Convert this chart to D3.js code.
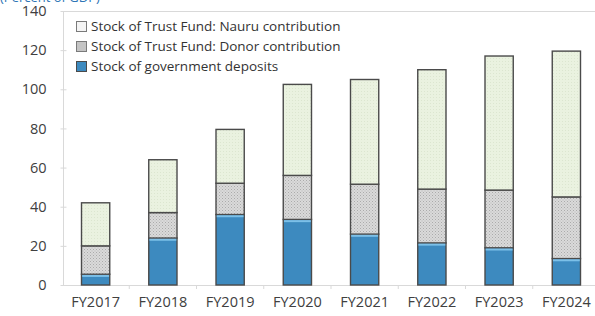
<!DOCTYPE html>
<html lang="en">
<head>
    <meta charset="UTF-8">
    <title>Nauru deposits and trust fund</title>
    <script src="https://cdn.jsdelivr.net/npm/d3@7"></script>
    <style>
        body { margin: 0; background: #fff; }
        text { font-family: "Open Sans", "Noto Sans", sans-serif; fill: #404040; }
    </style>
</head>
<body>
<svg id="chart" width="595" height="316"></svg>

<script>
    // data
    let years = ["FY2017", "FY2018", "FY2019", "FY2020", "FY2021", "FY2022", "FY2023", "FY2024"]
    let gov_deposits = [5.5, 24, 36, 33.5, 26, 21.5, 19, 13.5]
    let donor_contrib = [14.5, 13, 16, 22.5, 25.5, 27.5, 29.5, 31.5]
    let nauru_contrib = [22, 27, 27.5, 46.5, 53.5, 61, 68.5, 74.5]
    let y_ticks = [0, 20, 40, 60, 80, 100, 120, 140]
    let series_names = ["Stock of Trust Fund: Nauru contribution",
        "Stock of Trust Fund: Donor contribution",
        "Stock of government deposits"]
    let unit_label = "(Percent of GDP)"

    let svg = d3.select("#chart")

    // fill patterns
    let defs = svg.append("defs")
    let pn = defs.append("pattern").attr("id", "pat_nauru")
        .attr("width", 3).attr("height", 3).attr("patternUnits", "userSpaceOnUse")
    pn.append("rect").attr("width", 3).attr("height", 3).attr("fill", "#eaf2e0")
    pn.append("rect").attr("x", 1).attr("y", 1).attr("width", 1).attr("height", 1).attr("fill", "#dce6d0")

    let pd = defs.append("pattern").attr("id", "pat_donor")
        .attr("width", 3).attr("height", 3).attr("patternUnits", "userSpaceOnUse")
    pd.append("rect").attr("width", 3).attr("height", 3).attr("fill", "#dadada")
    pd.append("rect").attr("x", 0).attr("y", 0).attr("width", 1).attr("height", 1).attr("fill", "#ababab")
    pd.append("rect").attr("x", 1.5).attr("y", 1.5).attr("width", 1).attr("height", 1).attr("fill", "#b8b8b8")

    let x = d3.scaleBand().domain(years).range([62, 600]).paddingInner(0.58).paddingOuter(0.29)
    let y = d3.scaleLinear().domain([0, 140]).range([285, 11])

    // unit label, mostly cut off at the top
    svg.append("text").attr("x", 0).attr("y", 1.5).text(unit_label)
        .style("font-size", "13px").style("fill", "#2e75b6")

    // frame
    svg.append("line").attr("x1", 63).attr("x2", 595).attr("y1", 11.5).attr("y2", 11.5)
        .attr("stroke", "#d9d9d9")
    svg.append("line").attr("x1", 63.5).attr("x2", 63.5).attr("y1", 11).attr("y2", 285)
        .attr("stroke", "#d9d9d9")

    // y axis
    let yAxis = svg.append("g").attr("transform", "translate(63.5,0)")
        .call(d3.axisLeft(y).tickValues(y_ticks).tickSize(4).tickPadding(13))
    yAxis.select(".domain").remove()
    yAxis.selectAll("line").attr("stroke", "#d9d9d9").attr("x2", -3).attr("x1", 3)
    yAxis.selectAll("text").style("font-size", "14.5px").style("fill", "#404040")
        .style("font-family", "'Open Sans', sans-serif")

    // x axis
    let xAxis = svg.append("g").attr("transform", "translate(0,285.5)")
        .call(d3.axisBottom(x).tickSize(0).tickPadding(11))
    xAxis.select(".domain").attr("stroke", "#d9d9d9").attr("d", "M63,0H595")
    xAxis.selectAll("text").style("font-size", "14.5px").style("fill", "#404040")
        .style("font-family", "'Open Sans', sans-serif")
    // small ticks between categories
    svg.append("g").selectAll("line").data(years.slice(1)).join("line")
        .attr("x1", d => x(d) - x.step() * x.paddingInner() / 2)
        .attr("x2", d => x(d) - x.step() * x.paddingInner() / 2)
        .attr("y1", 285).attr("y2", 289).attr("stroke", "#d9d9d9")

    // stacked bars
    let rows = years.map((d, i) => ({year: d, gov: gov_deposits[i], donor: donor_contrib[i], nauru: nauru_contrib[i]}))
    let stack = d3.stack().keys(["gov", "donor", "nauru"])(rows)
    let fills = {gov: "#3d8abf", donor: "url(#pat_donor)", nauru: "url(#pat_nauru)"}

    let layers = svg.append("g").selectAll("g").data(stack).join("g")
        .attr("fill", d => fills[d.key])
    layers.selectAll("rect").data(d => d).join("rect")
        .attr("x", d => x(d.data.year))
        .attr("width", x.bandwidth())
        .attr("y", d => y(d[1]))
        .attr("height", d => y(d[0]) - y(d[1]))
        .attr("stroke", "#4a4a4a").attr("stroke-width", 1.4)

    // light highlight at the top of the blue segment
    svg.append("g").selectAll("rect").data(rows).join("rect")
        .attr("x", d => x(d.year) + 0.7)
        .attr("width", x.bandwidth() - 1.4)
        .attr("y", d => y(d.gov) + 0.7)
        .attr("height", 2)
        .attr("fill", "#7cc0e8")

    // legend
    let legend_fills = ["#f4f4f4", "#c4c4c4", "#3d8abf"]
    let legend_strokes = ["#7a7a7a", "#7a7a7a", "#4a4a4a"]
    let lg = svg.append("g")
    for (let i in series_names) {
        lg.append("rect").attr("x", 76.5).attr("y", 21.5 + i * 20).attr("width", 10).attr("height", 10)
            .attr("fill", legend_fills[i]).attr("stroke", legend_strokes[i])
        lg.append("text").attr("x", 91).attr("y", 31 + i * 20).text(series_names[i])
            .style("font-size", "13.5px").style("fill", "#333")
    }
</script>
</body>
</html>
